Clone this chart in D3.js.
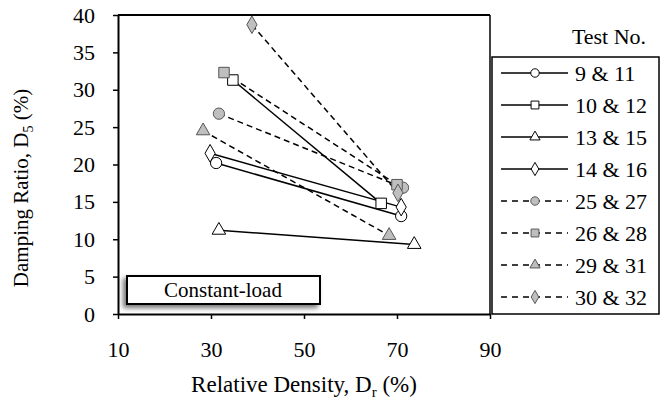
<!DOCTYPE html>
<html>
<head>
<meta charset="utf-8">
<title>Damping ratio vs relative density</title>
<script src="https://d3js.org/d3.v7.min.js"></script>
<style>
  body { margin: 0; background: #fff; }
  svg text { font-family: "Liberation Serif", "Times New Roman", serif; fill: #000; }
</style>
</head>
<body>
<div id="chart"></div>
<script>
// data: [relative density %, damping ratio %]
var series = ["9 & 11", "10 & 12", "13 & 15", "14 & 16", "25 & 27", "26 & 28", "29 & 31", "30 & 32"];
var markers = ["circle", "square", "triangle", "diamond", "circle", "square", "triangle", "diamond"];
var dashed = [false, false, false, false, true, true, true, true];
var dr = [[31.1, 70.9], [34.7, 66.6], [31.7, 73.7], [29.8, 70.9], [31.7, 71.3], [32.8, 70.0], [28.3, 68.3], [38.8, 70.2]];
var damping = [[20.2, 13.1], [31.3, 14.8], [11.2, 9.3], [21.5, 14.3], [26.8, 16.9], [32.3, 17.3], [24.5, 10.5], [38.7, 16.2]];
var xTicks = [10, 30, 50, 70, 90];
var yTicks = [0, 5, 10, 15, 20, 25, 30, 35, 40];

var W = 661, H = 406;
var mLeft = 118, mRight = 490, mTop = 15, mBottom = 314;
var fs = "22px";

var svg = d3.select("#chart").append("svg")
    .attr("width", W).attr("height", H);

var defs = svg.append("defs");
var f = defs.append("filter").attr("id", "shadow")
    .attr("x", "-20%").attr("y", "-40%").attr("width", "140%").attr("height", "180%");
f.append("feGaussianBlur").attr("in", "SourceAlpha").attr("stdDeviation", 2.5);
f.append("feOffset").attr("dx", -3).attr("dy", 3).attr("result", "b");
f.append("feComponentTransfer").append("feFuncA").attr("type", "linear").attr("slope", 0.55);
var fm = f.append("feMerge");
fm.append("feMergeNode");
fm.append("feMergeNode").attr("in", "SourceGraphic");

var x = d3.scaleLinear().domain([10, 90]).range([mLeft, mRight]);
var y = d3.scaleLinear().domain([0, 40]).range([mBottom, mTop]);

// frame top / right
svg.append("line").attr("x1", mLeft).attr("x2", mRight).attr("y1", mTop).attr("y2", mTop)
    .attr("stroke", "#000").attr("stroke-width", 2);
svg.append("line").attr("x1", mRight).attr("x2", mRight).attr("y1", mTop).attr("y2", mBottom)
    .attr("stroke", "#000").attr("stroke-width", 1.5);

// axes
var yAxis = svg.append("g").attr("transform", "translate(" + mLeft + ",0)")
    .call(d3.axisLeft(y).tickValues(yTicks).tickSize(5).tickPadding(18).tickSizeOuter(0));
var xAxis = svg.append("g").attr("transform", "translate(0," + mBottom + ")")
    .call(d3.axisBottom(x).tickValues(xTicks).tickSize(5).tickPadding(22).tickSizeOuter(0));
[xAxis, yAxis].forEach(function(a) {
  a.select(".domain").attr("stroke-width", 2);
  a.selectAll(".tick line").attr("stroke-width", 1.5);
  a.selectAll("text").style("font-size", fs)
    .style("font-family", "'Liberation Serif', serif");
});

// series
var sym = {
  circle: d3.symbol().type(d3.symbolCircle).size(100),
  square: d3.symbol().type(d3.symbolSquare).size(110),
  triangle: d3.symbol().type(d3.symbolTriangle).size(80),
  diamond: d3.symbol().type(d3.symbolDiamond).size(90)
};
var line = d3.line();

series.forEach(function(name, i) {
  var pts = dr[i].map(function(d, j) { return [x(d), y(damping[i][j])]; });
  svg.append("path").attr("d", line(pts))
    .attr("fill", "none").attr("stroke", "#000").attr("stroke-width", 1.5)
    .attr("stroke-dasharray", dashed[i] ? "6,4" : null);
});
series.forEach(function(name, i) {
  var pts = dr[i].map(function(d, j) { return [x(d), y(damping[i][j])]; });
  pts.forEach(function(p) {
    svg.append("path").attr("d", sym[markers[i]]())
      .attr("transform", "translate(" + p[0] + "," + p[1] + ")")
      .attr("fill", dashed[i] ? "#bfbfbf" : "#fff")
      .attr("stroke", dashed[i] ? "#555" : "#000").attr("stroke-width", 1);
  });
});

// constant-load box
svg.append("rect").attr("x", 127).attr("y", 276).attr("width", 193).attr("height", 28)
  .attr("fill", "#fff").attr("stroke", "#000").attr("stroke-width", 2)
  .attr("filter", "url(#shadow)");
svg.append("text").attr("x", 223).attr("y", 297).attr("text-anchor", "middle")
  .style("font-size", "21px").text("Constant-load");

// legend
svg.append("text").attr("x", 609).attr("y", 44).attr("text-anchor", "middle")
  .style("font-size", fs).text("Test No.");
svg.append("rect").attr("x", 492).attr("y", 57).attr("width", 167).attr("height", 257)
  .attr("fill", "#fff").attr("stroke", "#000").attr("stroke-width", 1.5);

var lg = svg.append("g");
series.forEach(function(name, i) {
  var cy = 73 + i * 32;
  lg.append("line").attr("x1", 501).attr("x2", 568).attr("y1", cy).attr("y2", cy)
    .attr("stroke", "#000").attr("stroke-width", 1.5)
    .attr("stroke-dasharray", dashed[i] ? "6,5" : null);
  lg.append("path").attr("d", sym[markers[i]]())
    .attr("transform", "translate(535," + cy + ") scale(0.75)")
    .attr("fill", dashed[i] ? "#bfbfbf" : "#fff")
    .attr("stroke", dashed[i] ? "#555" : "#000").attr("stroke-width", 1.3);
  lg.append("text").attr("x", 575).attr("y", cy + 7.5)
    .style("font-size", fs).text(name);
});

// axis titles
var xt = svg.append("text").attr("x", 304).attr("y", 392).attr("text-anchor", "middle")
  .style("font-size", "23px");
xt.append("tspan").text("Relative Density, D");
xt.append("tspan").attr("dy", 5).style("font-size", "15px").text("r");
xt.append("tspan").attr("dy", -5).text(" (%)");

var yt = svg.append("text").attr("transform", "translate(28,188) rotate(-90)")
  .attr("text-anchor", "middle").style("font-size", "21px");
yt.append("tspan").text("Damping Ratio, D");
yt.append("tspan").attr("dy", 5).style("font-size", "14px").text("5");
yt.append("tspan").attr("dy", -5).text(" (%)");
</script>
</body>
</html>
